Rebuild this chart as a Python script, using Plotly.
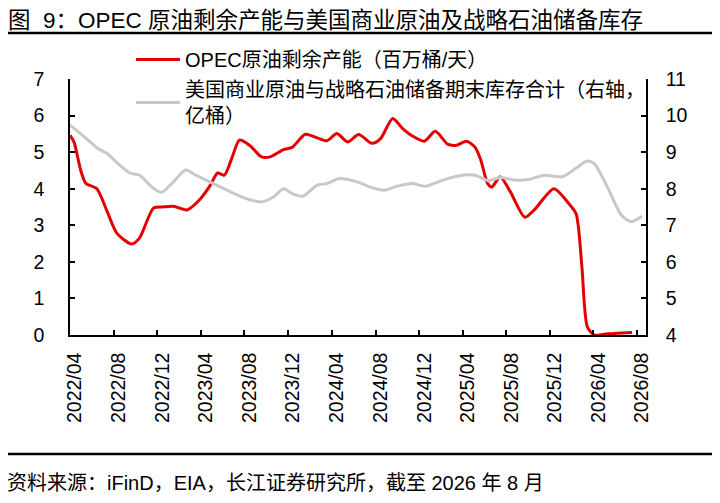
import plotly.graph_objects as go

# OPEC spare capacity (million b/d), left axis
opec_dates = [
    "2022-04-01", "2022-04-12", "2022-05-01", "2022-05-15", "2022-06-15", "2022-07-12",
    "2022-08-10", "2022-09-20", "2022-10-12", "2022-11-20", "2022-12-15", "2023-01-15",
    "2023-02-22", "2023-03-28", "2023-04-28", "2023-05-18", "2023-06-06", "2023-06-28",
    "2023-07-18", "2023-08-15", "2023-09-18", "2023-10-12", "2023-11-18", "2023-12-12",
    "2024-01-18", "2024-02-20", "2024-03-18", "2024-04-15", "2024-05-15", "2024-06-15",
    "2024-07-22", "2024-08-15", "2024-09-18", "2024-10-15", "2024-11-12", "2024-12-15",
    "2025-01-15", "2025-02-18", "2025-03-15", "2025-04-12", "2025-05-06", "2025-05-22",
    "2025-06-10", "2025-06-22", "2025-07-15", "2025-08-12", "2025-09-22", "2025-10-18",
    "2025-12-12", "2026-01-22", "2026-02-12", "2026-02-28", "2026-03-15", "2026-04-03",
    "2026-05-01", "2026-06-06", "2026-07-18",
]
opec_spare = [
    5.46, 5.28, 4.50, 4.15, 4.00, 3.42,
    2.78, 2.49, 2.65, 3.47, 3.50, 3.52,
    3.42, 3.69, 4.10, 4.43, 4.37, 4.87,
    5.33, 5.19, 4.87, 4.87, 5.07, 5.13,
    5.49, 5.39, 5.31, 5.51, 5.28, 5.48,
    5.24, 5.37, 5.92, 5.65, 5.44, 5.30,
    5.57, 5.22, 5.19, 5.30, 5.13, 4.78,
    4.14, 4.05, 4.33, 3.92, 3.22, 3.42,
    4.00, 3.60, 3.31, 1.87, 0.23, 0.00,
    0.02, 0.05, 0.07,
]

# US commercial crude + SPR ending stocks (100 million barrels), right axis
stock_dates = [
    "2022-04-01", "2022-05-06", "2022-06-18", "2022-07-15", "2022-08-18", "2022-09-15",
    "2022-10-12", "2022-11-15", "2022-12-12", "2023-01-10", "2023-02-18", "2023-03-18",
    "2023-05-06", "2023-06-22", "2023-08-06", "2023-09-18", "2023-10-22", "2023-11-18",
    "2023-12-15", "2024-01-12", "2024-02-20", "2024-03-18", "2024-04-22", "2024-06-10",
    "2024-07-18", "2024-08-25", "2024-10-01", "2024-11-12", "2024-12-18", "2025-02-01",
    "2025-03-15", "2025-05-06", "2025-06-12", "2025-07-15", "2025-08-22", "2025-10-01",
    "2025-11-15", "2026-01-06", "2026-02-10", "2026-03-15", "2026-04-03", "2026-05-10",
    "2026-06-18", "2026-07-15", "2026-08-15",
]
us_stocks = [
    9.74, 9.46, 9.10, 8.95, 8.64, 8.43,
    8.37, 8.05, 7.90, 8.14, 8.51, 8.37,
    8.14, 7.92, 7.73, 7.64, 7.78, 8.00,
    7.85, 7.80, 8.10, 8.14, 8.28, 8.19,
    8.04, 7.96, 8.07, 8.14, 8.07, 8.22,
    8.34, 8.37, 8.22, 8.31, 8.24, 8.25,
    8.37, 8.33, 8.55, 8.76, 8.69, 8.05,
    7.28, 7.10, 7.25,
]

FONT = "Arial, Liberation Sans, Noto Sans CJK SC"

fig = go.Figure()

fig.add_trace(go.Scatter(
    x=opec_dates, y=opec_spare, mode="lines",
    name="OPEC原油剩余产能（百万桶/天）",
    line=dict(color="#E30000", width=3, shape="spline", smoothing=0.7),
    legendgroup="a",
))
fig.add_trace(go.Scatter(
    x=stock_dates, y=us_stocks, mode="lines", yaxis="y2",
    name="美国商业原油与战略石油储备期末库存合计（右轴，<br>亿桶）",
    line=dict(color="#C8C8C8", width=3, shape="spline", smoothing=0.7),
    legendgroup="b",
))

axis_common = dict(
    showline=True, linecolor="black", linewidth=1.5,
    ticks="inside", ticklen=5, tickcolor="black", tickwidth=1.5,
    showgrid=False, zeroline=False,
    tickfont=dict(family=FONT, size=19.5, color="black"),
)

# the page body adds an 8px offset, so margins are trimmed to keep the plot box in place
fig.update_layout(
    width=720, height=503,
    margin=dict(l=62, r=82, t=71, b=176, autoexpand=False),
    paper_bgcolor="white", plot_bgcolor="white",
    font=dict(family=FONT, size=19, color="black"),
    xaxis=dict(
        type="date", range=["2022-04-01", "2026-08-26"],
        tick0="2022-04-01", dtick="M4", tickformat="%Y/%m",
        tickangle=-90, ticklabelstandoff=8, ticklabelshift=5,
        **axis_common,
    ),
    yaxis=dict(range=[0, 7], dtick=1, ticklabelstandoff=20, **axis_common),
    yaxis2=dict(
        range=[4, 11], dtick=1, overlaying="y", side="right",
        ticklabelstandoff=14, **axis_common,
    ),
    legend=dict(
        x=61 / 576, y=1.152, xanchor="left", yanchor="top",
        bgcolor="rgba(0,0,0,0)", tracegroupgap=1, itemwidth=44,
        font=dict(family=FONT, size=20, color="black"),
    ),
    showlegend=True,
    title=dict(
        text="图  9：OPEC 原油剩余产能与美国商业原油及战略石油储备库存",
        x=0, xanchor="left", y=1 - 12 / 503, yanchor="middle",
        font=dict(family=FONT, size=22.5, color="black"),
    ),
)

# rules under the title and above the source note
for yy in ((335 - 33) / 256, (335 - 454) / 256):
    fig.add_shape(type="line", xref="paper", yref="paper",
                  x0=-70 / 576, x1=650 / 576, y0=yy, y1=yy,
                  line=dict(color="black", width=2.5))

fig.add_annotation(
    text="资料来源：iFinD，EIA，长江证券研究所，截至 2026 年 8 月",
    xref="paper", yref="paper", x=-65 / 576, y=(335 - 483) / 256,
    xanchor="left", yanchor="middle", showarrow=False,
    font=dict(family=FONT, size=20, color="black"),
)

fig.write_html("out.html")
